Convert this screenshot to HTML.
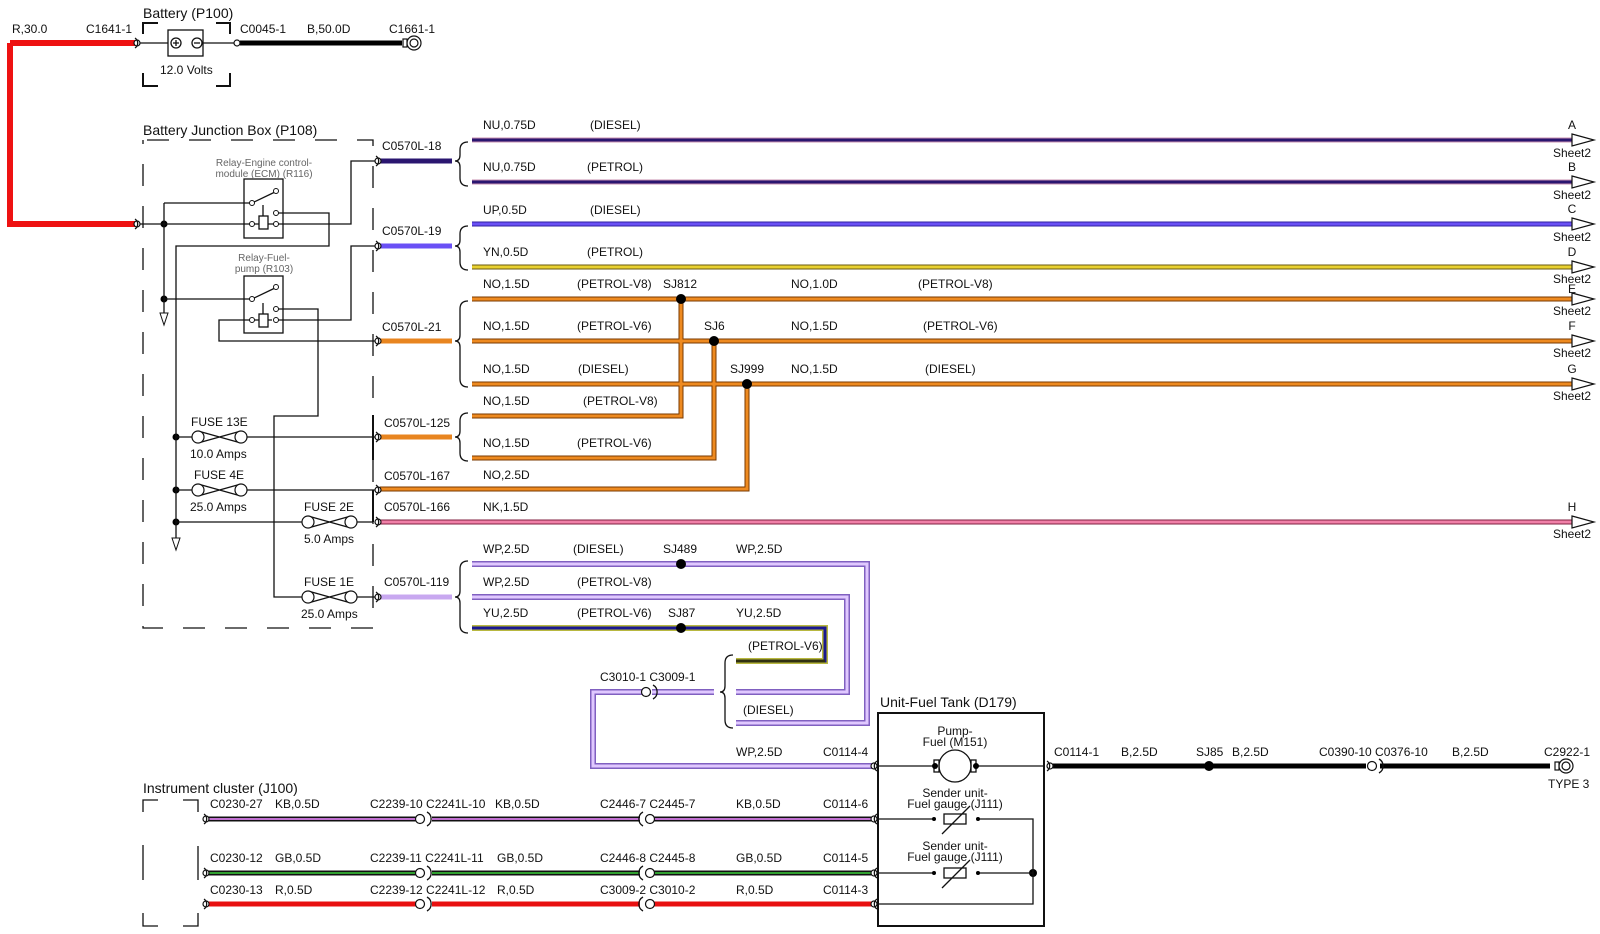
<!DOCTYPE html>
<html><head><meta charset="utf-8"><style>
html,body{margin:0;padding:0;background:#fff;}
svg{display:block;}
text{font-family:"Liberation Sans",Arial,sans-serif;font-size:12px;fill:#111;}
.t{font-size:14px;}
.g{font-size:10px;fill:#666;}
.k{fill:none;stroke:#111;stroke-width:1.3;}
</style></head><body>
<svg width="1600" height="934" viewBox="0 0 1600 934" xmlns="http://www.w3.org/2000/svg">
<defs>
<path id="wA" d="M472 140H1572"/>
<path id="wB" d="M472 182H1572"/>
<path id="wC" d="M472 224H1572"/>
<path id="wD" d="M472 267H1572"/>
<path id="wE" d="M472 299H1572"/>
<path id="wF" d="M472 341H1572"/>
<path id="wG" d="M472 384H1572"/>
<path id="wV8" d="M472 416H681V299"/>
<path id="wV6" d="M472 458H714V341"/>
<path id="w25" d="M380 489H747V384"/>
<path id="wH" d="M380 522H1572"/>
<path id="wWP1" d="M472 564H867V723H736"/>
<path id="wWP2" d="M472 597H847V692H736"/>
<path id="wYU" d="M472 628H825V661H736"/>
<path id="wWP3" d="M714 692H652M644 692H593V766H872"/>
<path id="wKB" d="M204 819H872"/>
<path id="wGB" d="M204 873H872"/>
<path id="wR" d="M204 904H872"/>
</defs>

<!-- wires: outer then inner -->
<g fill="none" stroke-linejoin="miter">
<g stroke="#c890b0" stroke-width="5"><use href="#wA"/><use href="#wB"/></g>
<g stroke="#2a1670" stroke-width="3"><use href="#wA"/><use href="#wB"/></g>
<path d="M380 161H452" stroke="#2a1670" stroke-width="5"/>
<use href="#wC" stroke="#3020a0" stroke-width="5"/><use href="#wC" stroke="#6a50f5" stroke-width="3"/>
<path d="M380 246H452" stroke="#6a50f5" stroke-width="5"/>
<use href="#wD" stroke="#6a5a10" stroke-width="5"/><use href="#wD" stroke="#e8d030" stroke-width="3"/>
<g stroke="#7a3a00" stroke-width="5"><use href="#wE"/><use href="#wF"/><use href="#wG"/><use href="#wV8"/><use href="#wV6"/><use href="#w25"/></g>
<g stroke="#ee8a20" stroke-width="3"><use href="#wE"/><use href="#wF"/><use href="#wG"/><use href="#wV8"/><use href="#wV6"/><use href="#w25"/></g>
<path d="M380 341H452M380 437H452" stroke="#e88520" stroke-width="5"/>
<use href="#wH" stroke="#802040" stroke-width="5"/><use href="#wH" stroke="#f080a8" stroke-width="3"/>
<g stroke="#8060c0" stroke-width="6"><use href="#wWP1"/><use href="#wWP2"/><use href="#wWP3"/></g>
<g stroke="#e0c8ff" stroke-width="3"><use href="#wWP1"/><use href="#wWP2"/><use href="#wWP3"/></g>
<path d="M380 597H452" stroke="#c8a8f0" stroke-width="5"/>
<use href="#wYU" stroke="#b8b840" stroke-width="6"/><use href="#wYU" stroke="#1a1890" stroke-width="3"/>
<path d="M736 661H825" stroke="#303010" stroke-width="3"/>
<use href="#wKB" stroke="#111" stroke-width="5"/><use href="#wKB" stroke="#c070d0" stroke-width="2"/>
<use href="#wGB" stroke="#111" stroke-width="5"/><use href="#wGB" stroke="#30a030" stroke-width="2"/>
<use href="#wR" stroke="#e81010" stroke-width="5"/>
<path d="M10 43H135M10 43V224H135" stroke="#ee1111" stroke-width="6"/>
<path d="M240 43H402" stroke="#000" stroke-width="5"/>
<path d="M1052 766H1370M1378 766H1550" stroke="#000" stroke-width="5"/>
</g>

<!-- connector gaps on bottom rows -->
<g fill="#fff"><rect x="418" y="812" width="14" height="100"/><rect x="640" y="812" width="14" height="100"/><rect x="1366" y="758" width="14" height="16"/></g>

<!-- splice dots -->
<g fill="#000"><circle cx="681" cy="299" r="5"/><circle cx="714" cy="341" r="5"/><circle cx="747" cy="384" r="5"/><circle cx="681" cy="564" r="5"/><circle cx="681" cy="628" r="5"/><circle cx="1209" cy="766" r="5"/>
<circle cx="164" cy="224" r="3.5"/><circle cx="164" cy="299" r="3.5"/><circle cx="176" cy="437" r="3.5"/><circle cx="176" cy="490" r="3.5"/><circle cx="176" cy="522" r="3.5"/><circle cx="1033" cy="873" r="4"/></g>

<!-- arrows right -->
<g fill="#fff" stroke="#111" stroke-width="1.2">
<path d="M1572 134L1594 140L1572 146Z"/><path d="M1572 176L1594 182L1572 188Z"/><path d="M1572 218L1594 224L1572 230Z"/><path d="M1572 261L1594 267L1572 273Z"/><path d="M1572 293L1594 299L1572 305Z"/><path d="M1572 335L1594 341L1572 347Z"/><path d="M1572 378L1594 384L1572 390Z"/><path d="M1572 516L1594 522L1572 528Z"/>
</g>
<g text-anchor="middle">
<text x="1572" y="129">A</text><text x="1572" y="157">Sheet2</text>
<text x="1572" y="171">B</text><text x="1572" y="199">Sheet2</text>
<text x="1572" y="213">C</text><text x="1572" y="241">Sheet2</text>
<text x="1572" y="256">D</text><text x="1572" y="283">Sheet2</text>
<text x="1572" y="293">E</text><text x="1572" y="315">Sheet2</text>
<text x="1572" y="330">F</text><text x="1572" y="357">Sheet2</text>
<text x="1572" y="373">G</text><text x="1572" y="400">Sheet2</text>
<text x="1572" y="511">H</text><text x="1572" y="538">Sheet2</text>
</g>

<!-- braces -->
<g class="k" stroke-width="1">
<path d="M468 142Q460 142 460 150V155Q460 161 455 161Q460 161 460 167V178Q460 186 468 186"/>
<path d="M468 226Q460 226 460 234V240Q460 246 455 246Q460 246 460 252V262Q460 270 468 270"/>
<path d="M468 301Q460 301 460 309V335Q460 341 455 341Q460 341 460 347V379Q460 387 468 387"/>
<path d="M468 413Q460 413 460 421V431Q460 437 455 437Q460 437 460 443V453Q460 461 468 461"/>
<path d="M468 561Q460 561 460 569V591Q460 597 455 597Q460 597 460 603V625Q460 633 468 633"/>
<path d="M733 655Q725 655 725 663V686Q725 692 720 692Q725 692 725 698V720Q725 728 733 728"/>
</g>

<!-- connectors -->
<g fill="#fff" stroke="#111" stroke-width="1.2">
<circle cx="137" cy="43" r="3"/><circle cx="237" cy="43" r="3"/>
<circle cx="137" cy="224" r="3"/>
<circle cx="378" cy="161" r="3"/><circle cx="378" cy="246" r="3"/><circle cx="378" cy="341" r="3"/><circle cx="378" cy="437" r="3"/><circle cx="378" cy="490" r="3"/><circle cx="378" cy="522" r="3"/><circle cx="378" cy="597" r="3"/>
<circle cx="206" cy="819" r="3"/><circle cx="206" cy="873" r="3"/><circle cx="206" cy="904" r="3"/>
<circle cx="874" cy="766" r="3"/><circle cx="874" cy="819" r="3"/><circle cx="874" cy="873" r="3"/><circle cx="874" cy="904" r="3"/>
<circle cx="1050" cy="766" r="3"/>
<circle cx="420" cy="819" r="4.5"/><circle cx="420" cy="873" r="4.5"/><circle cx="420" cy="904" r="4.5"/>
<circle cx="650" cy="819" r="4.5"/><circle cx="650" cy="873" r="4.5"/><circle cx="650" cy="904" r="4.5"/>
<circle cx="646" cy="692" r="4.5"/><circle cx="1372" cy="766" r="4.5"/>
<circle cx="414" cy="43" r="7"/><circle cx="414" cy="43" r="4"/>
<circle cx="1566" cy="766" r="7"/><circle cx="1566" cy="766" r="4"/>
<rect x="403" y="39" width="4" height="8"/><rect x="1555" y="762" width="4" height="8"/>
</g>
<g class="k" stroke-width="1.2">
<path d="M135 38A6 6 0 0 1 135 48M135 219A6 6 0 0 1 135 229M376 156A6 6 0 0 1 376 166M376 241A6 6 0 0 1 376 251M376 336A6 6 0 0 1 376 346M376 432A6 6 0 0 1 376 442M376 485A6 6 0 0 1 376 495M376 517A6 6 0 0 1 376 527M376 592A6 6 0 0 1 376 602M204 814A6 6 0 0 1 204 824M204 868A6 6 0 0 1 204 878M204 899A6 6 0 0 1 204 909"/>
<path d="M427 812A8 8 0 0 1 427 826M427 866A8 8 0 0 1 427 880M427 897A8 8 0 0 1 427 911M643 812A8 8 0 0 0 643 826M643 866A8 8 0 0 0 643 880M643 897A8 8 0 0 0 643 911M653 685A8 8 0 0 1 653 699M1379 759A8 8 0 0 1 1379 773"/>
<path d="M877 761A6 6 0 0 0 877 771M877 814A6 6 0 0 0 877 824M877 868A6 6 0 0 0 877 878M877 899A6 6 0 0 0 877 909M1047 761A6 6 0 0 1 1047 771"/>
</g>

<!-- Battery -->
<g class="k">
<path d="M140 43H168M203 43H234"/>
<rect x="168" y="30" width="35" height="26"/>
<circle cx="176" cy="43" r="5"/><path d="M173 43H179M176 40V46"/>
<circle cx="197" cy="43" r="5"/><path d="M194 43H200"/>
<path d="M143 34V23H158M216 23H230V34M143 73V86H158M216 86H230V73" stroke-width="2"/>
</g>
<text class="t" x="143" y="18">Battery (P100)</text>
<text x="12" y="33">R,30.0</text><text x="86" y="33">C1641-1</text>
<text x="240" y="33">C0045-1</text><text x="307" y="33">B,50.0D</text><text x="389" y="33">C1661-1</text>
<text x="160" y="74">12.0 Volts</text>

<!-- Junction box dashed outline -->
<g class="k" stroke-width="2">
<path d="M143 140H373V628H143Z" stroke-dasharray="22 20" stroke-dashoffset="-4"/>
</g>
<text class="t" x="143" y="135">Battery Junction Box (P108)</text>

<!-- Relay ECM -->
<g class="k">
<rect x="244" y="179" width="39" height="59"/>
<rect x="259" y="216" width="9" height="13"/><path d="M263 205V216"/>
<path d="M252 203L275 192"/>
<path d="M140 224H254M272 224H351V161H375"/>
<path d="M164 203H250M164 203V320"/>
<path d="M278 213H329V246H176V545"/>
<path d="M254 224H259M268 224H272"/>
</g>
<g fill="#fff" stroke="#111" stroke-width="1"><circle cx="252" cy="203" r="2.5"/><circle cx="276" cy="191" r="2.5"/><circle cx="276" cy="213" r="2.5"/><circle cx="276" cy="224" r="2.5"/><circle cx="252" cy="224" r="2.5"/></g>
<text class="g" x="264" y="166" text-anchor="middle">Relay-Engine control-</text>
<text class="g" x="264" y="177" text-anchor="middle">module (ECM) (R116)</text>
<path d="M160 313L164 325L168 313Z" fill="#fff" stroke="#111"/>
<path d="M172 538L176 550L180 538Z" fill="#fff" stroke="#111"/>

<!-- Relay fuel pump -->
<g class="k">
<rect x="244" y="276" width="39" height="57"/>
<rect x="259" y="314" width="9" height="13"/><path d="M263 303V314"/>
<path d="M252 299L275 288"/>
<path d="M164 299H250"/>
<path d="M278 309H318V416H274V597H302"/>
<path d="M250 320H219V341H375"/>
<path d="M278 320H351V246H375"/>
<path d="M254 320H259M268 320H272"/>
</g>
<g fill="#fff" stroke="#111" stroke-width="1"><circle cx="252" cy="299" r="2.5"/><circle cx="276" cy="287" r="2.5"/><circle cx="276" cy="309" r="2.5"/><circle cx="276" cy="320" r="2.5"/><circle cx="252" cy="320" r="2.5"/></g>
<text class="g" x="264" y="261" text-anchor="middle">Relay-Fuel-</text>
<text class="g" x="264" y="272" text-anchor="middle">pump (R103)</text>

<!-- Fuses -->
<g class="k">
<path d="M176 437H192M247 437H375M176 490H192M247 490H375M176 522H302M357 522H373M357 597H375"/>
<path d="M373 415V460M373 490V522" stroke-width="2"/>
</g>
<g fill="#fff" stroke="#111" stroke-width="1.2">
<path d="M198 431L241 443M198 443L241 431"/><circle cx="198" cy="437" r="6"/><circle cx="241" cy="437" r="6"/>
<path d="M198 484L241 496M198 496L241 484"/><circle cx="198" cy="490" r="6"/><circle cx="241" cy="490" r="6"/>
<path d="M308 516L351 528M308 528L351 516"/><circle cx="308" cy="522" r="6"/><circle cx="351" cy="522" r="6"/>
<path d="M308 591L351 603M308 603L351 591"/><circle cx="308" cy="597" r="6"/><circle cx="351" cy="597" r="6"/>
</g>
<text x="191" y="426">FUSE 13E</text><text x="190" y="458">10.0 Amps</text>
<text x="194" y="479">FUSE 4E</text><text x="190" y="511">25.0 Amps</text>
<text x="304" y="511">FUSE 2E</text><text x="304" y="543">5.0 Amps</text>
<text x="304" y="586">FUSE 1E</text><text x="301" y="618">25.0 Amps</text>

<!-- connector labels -->
<text x="382" y="150">C0570L-18</text><text x="382" y="235">C0570L-19</text><text x="382" y="331">C0570L-21</text>
<text x="384" y="427">C0570L-125</text><text x="384" y="480">C0570L-167</text><text x="384" y="511">C0570L-166</text><text x="384" y="586">C0570L-119</text>

<!-- wire labels -->
<text x="483" y="129">NU,0.75D</text><text x="590" y="129">(DIESEL)</text>
<text x="483" y="171">NU,0.75D</text><text x="587" y="171">(PETROL)</text>
<text x="483" y="214">UP,0.5D</text><text x="590" y="214">(DIESEL)</text>
<text x="483" y="256">YN,0.5D</text><text x="587" y="256">(PETROL)</text>
<text x="483" y="288">NO,1.5D</text><text x="577" y="288">(PETROL-V8)</text><text x="663" y="288">SJ812</text><text x="791" y="288">NO,1.0D</text><text x="918" y="288">(PETROL-V8)</text>
<text x="483" y="330">NO,1.5D</text><text x="577" y="330">(PETROL-V6)</text><text x="704" y="330">SJ6</text><text x="791" y="330">NO,1.5D</text><text x="923" y="330">(PETROL-V6)</text>
<text x="483" y="373">NO,1.5D</text><text x="578" y="373">(DIESEL)</text><text x="730" y="373">SJ999</text><text x="791" y="373">NO,1.5D</text><text x="925" y="373">(DIESEL)</text>
<text x="483" y="405">NO,1.5D</text><text x="583" y="405">(PETROL-V8)</text>
<text x="483" y="447">NO,1.5D</text><text x="577" y="447">(PETROL-V6)</text>
<text x="483" y="479">NO,2.5D</text>
<text x="483" y="511">NK,1.5D</text>
<text x="483" y="553">WP,2.5D</text><text x="573" y="553">(DIESEL)</text><text x="663" y="553">SJ489</text><text x="736" y="553">WP,2.5D</text>
<text x="483" y="586">WP,2.5D</text><text x="577" y="586">(PETROL-V8)</text>
<text x="483" y="617">YU,2.5D</text><text x="577" y="617">(PETROL-V6)</text><text x="668" y="617">SJ87</text><text x="736" y="617">YU,2.5D</text>
<text x="748" y="650">(PETROL-V6)</text>
<text x="600" y="681">C3010-1 C3009-1</text>
<text x="743" y="714">(DIESEL)</text>
<text x="736" y="756">WP,2.5D</text><text x="823" y="756">C0114-4</text>

<!-- Fuel tank -->
<rect x="878" y="713" width="166" height="213" fill="none" stroke="#111" stroke-width="2"/>
<text class="t" x="880" y="707">Unit-Fuel Tank (D179)</text>
<g class="k">
<path d="M877 766H935M975 766H1044"/>
<circle cx="955" cy="766" r="16"/>
<rect x="934" y="760" width="5" height="12"/><rect x="971" y="760" width="5" height="12"/>
<path d="M877 819H934M978 819H1033V904H877M877 873H934M978 873H1033"/>
<rect x="944" y="814" width="22" height="10"/><rect x="944" y="868" width="22" height="10"/>
<path d="M942 834L970 806M942 888L970 860"/>
</g>
<g fill="#000"><circle cx="935" cy="766" r="3"/><circle cx="976" cy="766" r="3"/><circle cx="934" cy="819" r="2"/><circle cx="978" cy="819" r="2"/><circle cx="934" cy="873" r="2"/><circle cx="978" cy="873" r="2"/></g>
<g class="g" text-anchor="middle"><text x="955" y="735">Pump-</text><text x="955" y="746">Fuel (M151)</text>
<text x="955" y="797">Sender unit-</text><text x="955" y="808">Fuel gauge (J111)</text>
<text x="955" y="850">Sender unit-</text><text x="955" y="861">Fuel gauge (J111)</text></g>

<!-- Right black wire labels -->
<text x="1054" y="756">C0114-1</text><text x="1121" y="756">B,2.5D</text><text x="1196" y="756">SJ85</text><text x="1232" y="756">B,2.5D</text>
<text x="1319" y="756">C0390-10 C0376-10</text><text x="1452" y="756">B,2.5D</text><text x="1544" y="756">C2922-1</text><text x="1548" y="788">TYPE 3</text>

<!-- Instrument cluster -->
<text class="t" x="143" y="793">Instrument cluster (J100)</text>
<g class="k" stroke-width="2"><path d="M143 812V800H158M183 800H198V812M143 845V880M198 846V880M143 913V926H158M183 926H198V913"/></g>
<text x="210" y="808">C0230-27</text><text x="275" y="808">KB,0.5D</text><text x="370" y="808">C2239-10 C2241L-10</text><text x="495" y="808">KB,0.5D</text><text x="600" y="808">C2446-7 C2445-7</text><text x="736" y="808">KB,0.5D</text><text x="823" y="808">C0114-6</text>
<text x="210" y="862">C0230-12</text><text x="275" y="862">GB,0.5D</text><text x="370" y="862">C2239-11 C2241L-11</text><text x="497" y="862">GB,0.5D</text><text x="600" y="862">C2446-8 C2445-8</text><text x="736" y="862">GB,0.5D</text><text x="823" y="862">C0114-5</text>
<text x="210" y="894">C0230-13</text><text x="275" y="894">R,0.5D</text><text x="370" y="894">C2239-12 C2241L-12</text><text x="497" y="894">R,0.5D</text><text x="600" y="894">C3009-2 C3010-2</text><text x="736" y="894">R,0.5D</text><text x="823" y="894">C0114-3</text>
</svg>
</body></html>
